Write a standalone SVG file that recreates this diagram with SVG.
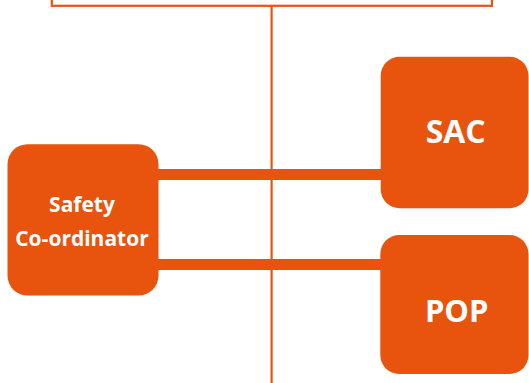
<svg xmlns="http://www.w3.org/2000/svg" width="529" height="383" viewBox="0 0 529 383">
  <style>
    .box { fill: #E8530D; }
    .wire { stroke: #E8530D; fill: none; }
    .thin { stroke-width: 2.2; }
    .thick { stroke-width: 11; }
    .label { fill: #ffffff; font-family: "Open Sans", "Liberation Sans", sans-serif; font-weight: bold; text-anchor: middle; }
  </style>
  <rect width="529" height="383" fill="#ffffff"/>

  <!-- upper frame, cut off by the top edge -->
  <g id="top-frame">
    <rect class="wire thin" x="51.8" y="-20" width="440.2" height="25.8"/>
  </g>

  <g id="connectors">
    <line class="wire thin" x1="271.6" y1="5.8" x2="271.6" y2="383"/>
    <line class="wire thick" x1="150" y1="174.6" x2="390" y2="174.6"/>
    <line class="wire thick" x1="150" y1="264.6" x2="390" y2="264.6"/>
  </g>

  <g id="safety-coordinator">
    <rect class="box" x="7.5" y="144.2" width="151" height="151.3" rx="20"/>
    <text class="label" x="82" y="211.5" font-size="21">Safety</text>
    <text class="label" x="82" y="245.5" font-size="21">Co-ordinator</text>
  </g>

  <g id="sac">
    <rect class="box" x="380.7" y="56.7" width="147.8" height="151.6" rx="19"/>
    <text class="label" x="455.7" y="143.3" font-size="32">SAC</text>
  </g>

  <g id="pop">
    <rect class="box" x="380.3" y="235" width="148.2" height="139" rx="19"/>
    <text class="label" x="456.7" y="321.7" font-size="31">POP</text>
  </g>
</svg>
